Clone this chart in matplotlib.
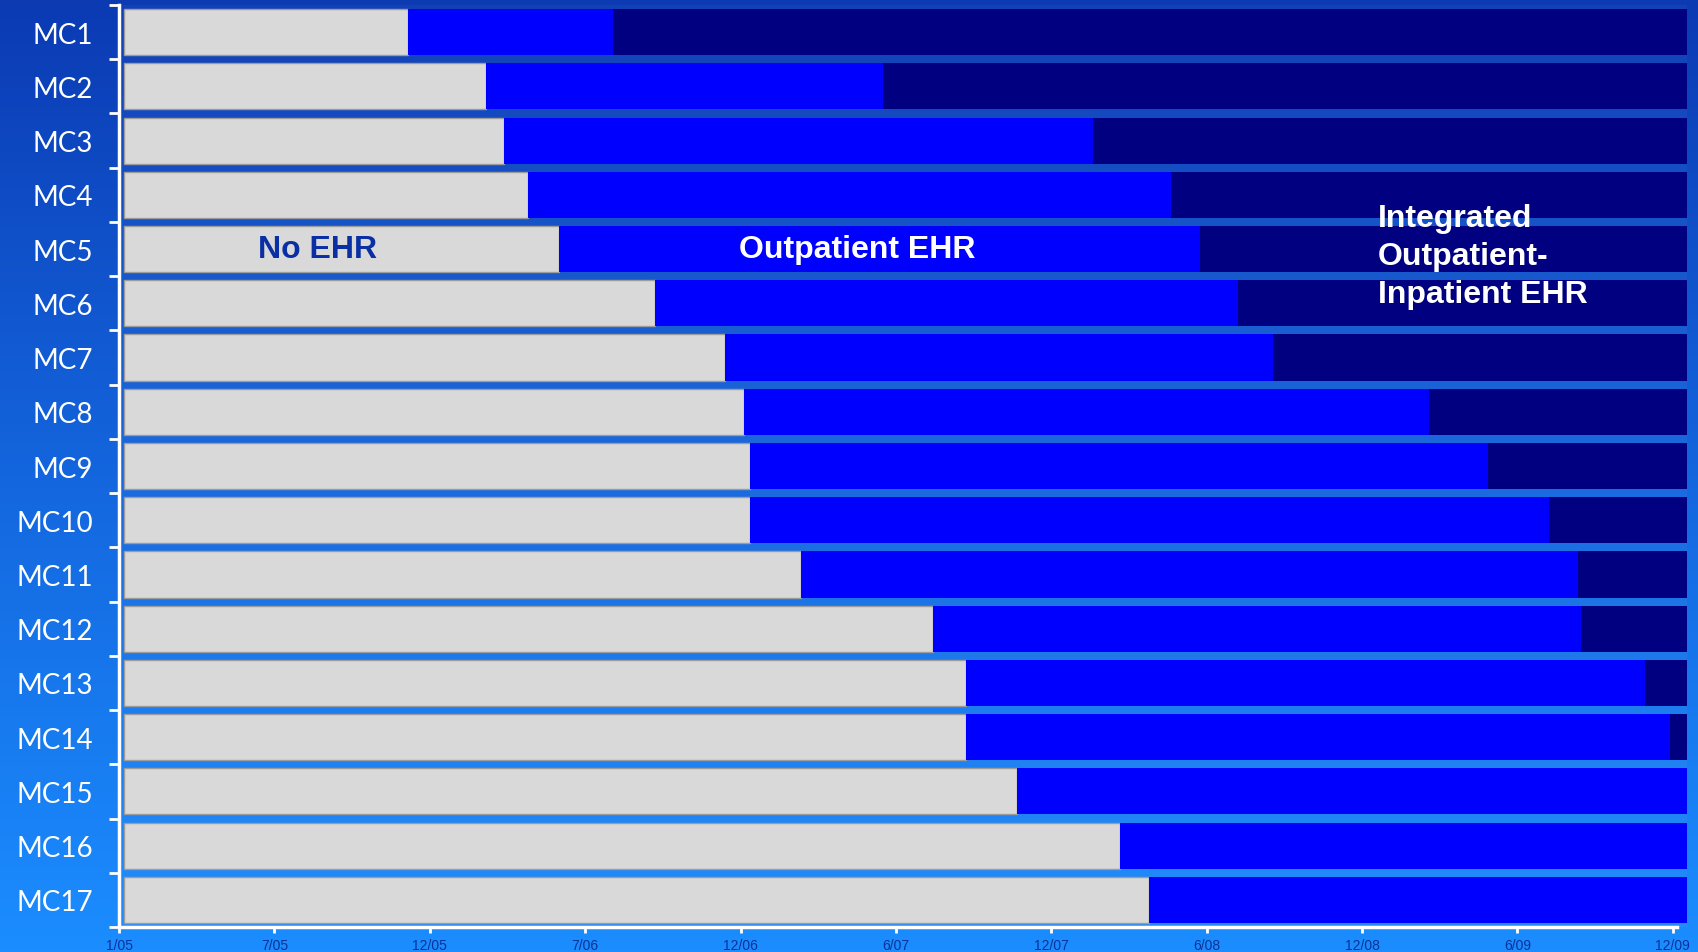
import numpy as np
import matplotlib.pyplot as plt
from matplotlib.colors import LinearSegmentedColormap

# rollout timeline per medical center, in tick units (0 = 1/05 ... 10 = 12/09)
centers = ["MC1", "MC2", "MC3", "MC4", "MC5", "MC6", "MC7", "MC8", "MC9",
           "MC10", "MC11", "MC12", "MC13", "MC14", "MC15", "MC16", "MC17"]
outpatient_start = [1.86, 2.36, 2.48, 2.63, 2.83, 3.45, 3.90, 4.02, 4.06,
                    4.06, 4.39, 5.24, 5.45, 5.45, 5.78, 6.44, 6.63]
integrated_start = [3.18, 4.92, 6.27, 6.77, 6.96, 7.20, 7.43, 8.43, 8.81,
                    9.20, 9.39, 9.41, 9.82, 9.98, 10.09, 10.09, 10.09]
timeline_start = 0.03
timeline_end = 10.09

tick_labels = ["1/05", "7/05", "12/05", "7/06", "12/06", "6/07", "12/07",
               "6/08", "12/08", "6/09", "12/09"]

GRAY = "#d9d9d9"
BLUE = "#0000ff"
NAVY = "#000080"

fig = plt.figure(figsize=(16.98, 9.53), dpi=100)

# vertical gradient backdrop
bg = fig.add_axes([0, 0, 1, 1], zorder=-1)
grad = np.linspace(0, 1, 256).reshape(-1, 1)
cmap = LinearSegmentedColormap.from_list("bg", ["#0b3ab3", "#1466de", "#1b8dff"])
bg.imshow(grad, aspect="auto", cmap=cmap, extent=[0, 1, 0, 1])
bg.set_axis_off()

ax = fig.add_axes([0.0701, 0.0262, 0.9934 - 0.0701, 0.9675])
ax.set_facecolor((1, 1, 1, 0.03))

y = np.arange(len(centers)) + 0.5
out_s = np.array(outpatient_start)
int_s = np.array(integrated_start)

ax.barh(y, out_s - timeline_start, left=timeline_start, height=0.85,
        color=GRAY, edgecolor="#9c9c9c", linewidth=1)
ax.barh(y, int_s - out_s, left=out_s, height=0.85, color=BLUE, linewidth=0)
ax.barh(y, timeline_end - int_s, left=int_s, height=0.85, color=NAVY, linewidth=0)

ax.set_xlim(0, timeline_end)
ax.set_ylim(len(centers), 0)

# row boundaries get the white ticks, names sit between them
ax.set_yticks(np.arange(len(centers) + 1))
ax.set_yticklabels([])
ax.set_yticks(y, centers, minor=True)
ax.tick_params(axis="y", which="major", direction="out", length=7, width=2,
               color="white")
ax.tick_params(axis="y", which="minor", length=0, pad=19, labelsize=20,
               labelcolor="white")
for lab in ax.get_yticklabels(minor=True):
    lab.set_family("Lato")

ax.set_xticks(np.arange(len(tick_labels)), tick_labels)
ax.tick_params(axis="x", direction="out", length=4, width=2, color="white",
               pad=4, labelsize=10, labelcolor="#0c3299")
for lab in ax.get_xticklabels():
    lab.set_family("Liberation Sans")

for side in ("top", "right"):
    ax.spines[side].set_visible(False)
for side in ("left", "bottom"):
    ax.spines[side].set_color("white")
    ax.spines[side].set_linewidth(2.5)
ax.spines["bottom"].set_bounds(0, 10.03)

txt = dict(family="Liberation Sans", fontweight="bold", fontsize=23)
ax.text(1.28, 4.50, "No EHR", color="#0a2fa5", ha="center", va="center", **txt)
ax.text(4.75, 4.50, "Outpatient EHR", color="white", ha="center", va="center", **txt)
ax.text(8.10, 4.63, "Integrated\nOutpatient-\nInpatient EHR", color="white",
        ha="left", va="center", linespacing=1.36, **txt)

fig.savefig("out.png", dpi=100)
